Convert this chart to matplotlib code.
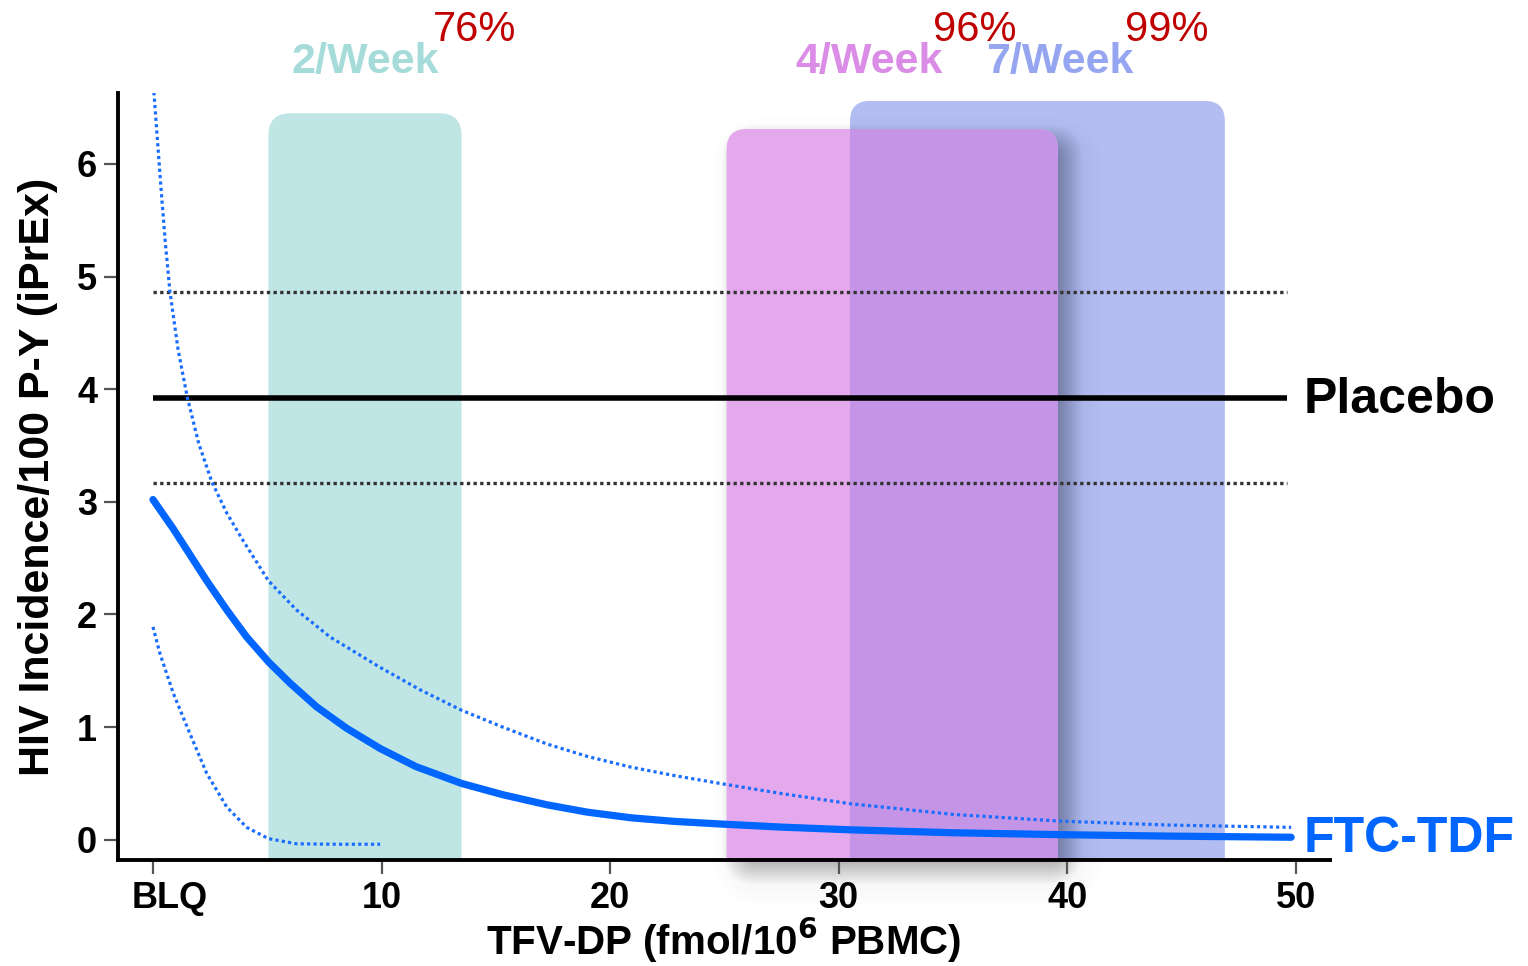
import numpy as np
import matplotlib
matplotlib.use("Agg")
import matplotlib.pyplot as plt
import matplotlib.transforms as mtransforms
from matplotlib.patches import FancyBboxPatch, Rectangle

plt.rcParams['font.family'] = ['Liberation Sans', 'DejaVu Sans']

# fitted incidence curve (FTC-TDF)
conc_fit = [0, 0.89, 1.62, 2.35, 3.23, 4.1, 5.05, 6.0, 7.16, 8.47, 9.94, 11.5,
            13.5, 15.3, 17.24, 19.0, 20.9, 22.8, 24.8, 27.5, 30.5, 35.0, 39.7,
            44.5, 49.8]
inc_fit = [3.02, 2.76, 2.53, 2.30, 2.04, 1.80, 1.58, 1.39, 1.18, 0.99, 0.81, 0.65,
           0.50, 0.40, 0.31, 0.245, 0.195, 0.163, 0.14, 0.112, 0.088, 0.062, 0.045,
           0.032, 0.022]

# upper confidence bound
conc_up = [0, 0.2, 0.38, 0.55, 0.74, 1.1, 1.5, 2.0, 2.57, 3.23, 3.96, 5.05, 6.28,
           7.75, 9.94, 11.7, 13.5, 15.3, 17.24, 19.0, 20.9, 22.8, 24.8, 27.5,
           30.5, 35.0, 39.7, 44.5, 49.8]
inc_up = [6.75, 6.2, 5.71, 5.28, 4.87, 4.35, 3.93, 3.52, 3.18, 2.90, 2.65, 2.30,
          2.04, 1.80, 1.53, 1.33, 1.15, 1.0, 0.85, 0.74, 0.645, 0.57, 0.50, 0.41,
          0.32, 0.225, 0.165, 0.13, 0.11]

# lower confidence bound
conc_lo = [0, 0.31, 0.89, 1.62, 2.35, 3.23, 4.1, 5.05, 6.28, 8.0, 9.94]
inc_lo = [1.89, 1.65, 1.30, 0.94, 0.59, 0.29, 0.11, 0.01, -0.036, -0.04, -0.04]

# placebo incidence and its confidence interval
placebo_x = [0, 49.6]
placebo_y = 3.92
placebo_lo = 3.17
placebo_hi = 4.86

# dosing bands (concentration ranges)
band_names = ['2/Week', '4/Week', '7/Week']
band_x0 = [5.05, 25.1, 30.5]
band_x1 = [13.5, 39.6, 46.9]
band_top = [6.45, 6.31, 6.56]
efficacy = ['76%', '96%', '99%']

xticks = [0, 10, 20, 30, 40, 50]
xticklabels = ['BLQ', '10', '20', '30', '40', '50']
yticks = [0, 1, 2, 3, 4, 5, 6]

fig = plt.figure(figsize=(15.28, 9.66), dpi=100)
ax = fig.add_axes([118/1528, 106/966, 1212/1528, 767/966])
ax.set_xlim(-1.53, 51.5)
ax.set_ylim(-0.18, 6.63)

# data units per pixel
ux = (51.5 + 1.53) / 1212
uy = (6.63 + 0.18) / 767
asp = uy / ux


def rbox(x0, x1, y0, y1, r, **kw):
    return FancyBboxPatch((x0, y0), x1 - x0, y1 - y0,
                          boxstyle=f"round,pad=0,rounding_size={r}",
                          mutation_aspect=asp, **kw)


ybot = -0.18
# 2/Week band
ax.add_patch(rbox(band_x0[0], band_x1[0], -1, band_top[0], 22*ux,
                  fc='#bfe6e4', ec='none', zorder=1))
# 7/Week band
ax.add_patch(rbox(band_x0[2], band_x1[2], -1, band_top[2], 20*ux,
                  fc='#b3bdf2', ec='none', zorder=1))

# soft shadow behind the 4/Week band: a tight dark part and a wide faint halo
for dx, dy, es, a in [(10, 10, np.arange(-14, 15, 2), 0.02),
                      (16, 17, np.arange(-30, 33, 3), 0.005)]:
    cx0 = band_x0[1] + dx*ux
    cx1 = band_x1[1] + dx*ux
    ctop = band_top[1] - dy*uy
    cbot = ybot - dy*uy
    for e in es:
        ax.add_patch(rbox(cx0 - e*ux, cx1 + e*ux, cbot - e*uy, ctop + e*uy,
                          max(20 + e, 2)*ux, fc='black', ec='none', alpha=a,
                          zorder=1.2, clip_on=False))

# 4/Week band, with overlap colour where it covers the 7/Week band
ax.add_patch(rbox(band_x0[1], band_x1[1], -1, band_top[1], 20*ux,
                  fc='#e4a8ec', ec='none', zorder=1.3))
ov = rbox(band_x0[1], band_x1[1], -1, band_top[1], 20*ux,
          fc='#c495e6', ec='none', zorder=1.31)
ax.add_patch(ov)
ov.set_clip_path(Rectangle((band_x0[2], ybot), 100, 10, transform=ax.transData))

# placebo
ax.plot(placebo_x, [placebo_y]*2, color='black', lw=4, zorder=4,
        solid_capstyle='butt')
for yv in (placebo_lo, placebo_hi):
    ax.plot(placebo_x, [yv]*2, color='#333333', lw=2.4, ls=(0, (1, 1)), zorder=4)

# FTC-TDF
ax.plot(conc_fit, inc_fit, color='#0066ff', lw=5.2, zorder=5,
        solid_capstyle='round', solid_joinstyle='round')
ax.plot(conc_up, inc_up, color='#1a6dff', lw=2.3, ls=(0, (1, 1)), zorder=5)
ax.plot(conc_lo, inc_lo, color='#1a6dff', lw=2.3, ls=(0, (1, 1)), zorder=5)

# side labels
ax.text(50.36, 3.79, 'Placebo', fontsize=36, fontweight='bold', color='black',
        va='baseline', ha='left', clip_on=False)
ax.text(50.36, -0.11, 'FTC-TDF', fontsize=36, fontweight='bold', color='#0066ff',
        va='baseline', ha='left', clip_on=False)

# band labels and efficacy
lab_x = [9.28, 31.35, 39.7]
lab_col = ['#a5dcda', '#da8ce6', '#96a5f0']
pct_x = [14.05, 35.97, 44.37]
for name, lx, lc, pct, px in zip(band_names, lab_x, lab_col, efficacy, pct_x):
    ax.text(lx, 6.81, name, fontsize=31, fontweight='bold', color=lc,
            ha='center', va='baseline', clip_on=False)
    ax.text(px, 7.096, pct, fontsize=30, color='#c00000',
            ha='center', va='baseline', clip_on=False)

for s in ('top', 'right'):
    ax.spines[s].set_visible(False)
for s in ('left', 'bottom'):
    ax.spines[s].set_linewidth(2.8)
    ax.spines[s].set_zorder(6)

ax.set_xticks(xticks)
ax.set_xticklabels(xticklabels)
ax.set_yticks(yticks)
ax.tick_params(axis='both', direction='out', length=10, width=1.6,
               color='#555555', labelsize=26, pad=5)
ax.tick_params(axis='x', pad=5)
for lbl in ax.get_xticklabels() + ax.get_yticklabels():
    lbl.set_fontweight('bold')
# BLQ sits a little right of its tick
blq = ax.get_xticklabels()[0]
blq.set_transform(blq.get_transform() +
                  mtransforms.ScaledTranslation(17/100, 0, fig.dpi_scale_trans))

ax.set_xlabel('TFV-DP (fmol/10$^\\mathbf{6}$ PBMC)', fontsize=29,
              fontweight='bold', labelpad=0)
ax.set_ylabel('HIV Incidence/100 P-Y (iPrEx)', fontsize=31,
              fontweight='bold', labelpad=14)

fig.savefig('out.png', dpi=100)
